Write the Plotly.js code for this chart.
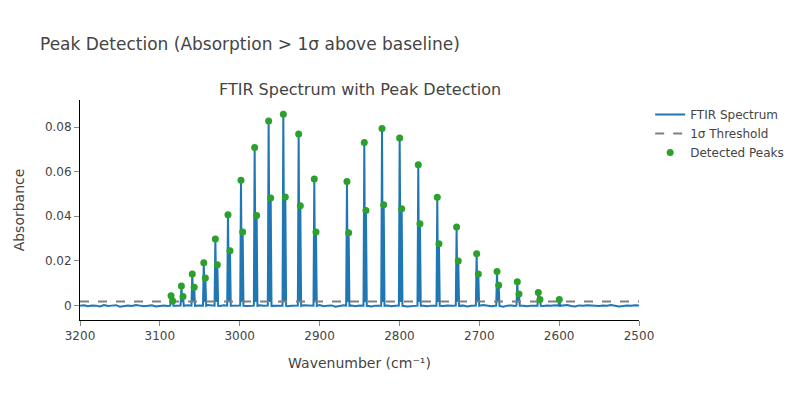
<!DOCTYPE html>
<html>
<head>
<meta charset="utf-8">
<script src="https://cdn.plot.ly/plotly-3.0.1.min.js"></script>
<style>html,body{margin:0;padding:0;background:#fff;}#chart{width:800px;height:400px;}</style>
</head>
<body>
<div id="chart"></div>
<script>
// Main (H35Cl-like) peak positions (cm^-1) and absorbance
var mainWn  = [3086, 3073, 3059.4, 3045, 3030.5, 3014.7, 2998.4, 2981.3, 2963.8, 2945.4, 2926.2, 2906.6,
               2865.7, 2844, 2821.8, 2799.7, 2776.4, 2752.6, 2728.4, 2703.3, 2677.8, 2652.4, 2626.1, 2599.8];
var mainAbs = [0.0043, 0.0087, 0.0141, 0.0191, 0.0298, 0.0407, 0.0562, 0.0709, 0.0828, 0.0858, 0.0769, 0.0567,
               0.0556, 0.0731, 0.0794, 0.0751, 0.0631, 0.0486, 0.0352, 0.0232, 0.0152, 0.0106, 0.0058, 0.0027];
// Secondary (isotope) peaks
var isoWn  = [3084, 3071, 3057, 3043, 3028, 3012.2, 2996.3, 2978.8, 2961.2, 2942.9, 2924.1, 2904.5,
              2863.6, 2841.9, 2819.7, 2797.2, 2774.3, 2750.5, 2726.3, 2701.2, 2675.7, 2650.3, 2624];
var isoAbs = [0.0020, 0.0040, 0.0081, 0.0123, 0.0183, 0.0245, 0.0329, 0.0404, 0.0482, 0.0487, 0.0447, 0.0330,
              0.0326, 0.0426, 0.0452, 0.0434, 0.0366, 0.0277, 0.0199, 0.0141, 0.0091, 0.0051, 0.0026];
// Baseline samples every 5 cm^-1 from 3200 down to 2500 (units of 1e-4 absorbance)
var baselineStart = 3200, baselineStep = 5;
var baselineE4 = [
 -2,1,-4,0,-1,-5,2,-3,-1,1,-6,-2,0,-3,2,-1,-4,-2,1,-5,
 -1,0,-3,3,-2,-4,-1,1,-3,-6,0,-2,2,-1,-4,-3,1,-2,-5,0,
 -1,2,-3,-1,-4,1,-2,-6,0,-3,-1,2,-4,-2,0,-5,1,-1,-3,-2,
 2,-4,-1,0,-6,-2,1,-3,-1,-4,0,2,-2,-5,-1,1,-3,0,-4,-2,
 1,-1,-5,-3,0,2,-2,-4,-1,-6,1,-3,0,-2,-4,1,-1,-5,-2,0,
 -3,2,-1,-4,-2,1,-6,-1,0,-3,2,-2,-4,-1,1,-5,-3,0,-2,1,
 -4,-1,2,-3,-5,0,-2,1,-1,-4,-3,0,-2,2,-1,-5,-3,0,-2,1,-1];
var threshold = 0.0017;
var xTicks = [3200, 3100, 3000, 2900, 2800, 2700, 2600, 2500];
var yTicks = [0, 0.02, 0.04, 0.06, 0.08];
var yTickText = ['0', '0.02', '0.04', '0.06', '0.08'];

// Assemble spectrum points: baseline + peak profiles
var pts = [];
var allPeaks = mainWn.concat(isoWn);
baselineE4.forEach(function (v, i) {
  var x = baselineStart - i * baselineStep;
  var near = allPeaks.some(function (p) { return Math.abs(p - x) < 2.5; });
  if (!near) pts.push([x, v * 1e-4]);
});
mainWn.forEach(function (w, i) {
  pts.push([w + 1.0, -0.0001]);
  pts.push([w, mainAbs[i]]);
  if (i < isoWn.length) {
    pts.push([(w + isoWn[i]) / 2, 0.0015]);
    pts.push([isoWn[i], isoAbs[i]]);
    pts.push([isoWn[i] - 1.0, -0.0002]);
  } else {
    pts.push([w - 1.0, -0.0002]);
  }
});
pts.sort(function (a, b) { return b[0] - a[0]; });
var specX = pts.map(function (p) { return p[0]; });
var specY = pts.map(function (p) { return p[1]; });

var peakX = mainWn.concat(isoWn);
var peakY = mainAbs.concat(isoAbs);

var FONT = '"DejaVu Sans", Verdana, sans-serif';
var TXT = '#444';

var traces = [
  {x: specX, y: specY, type: 'scatter', mode: 'lines', name: 'FTIR Spectrum',
   line: {color: '#1f77b4', width: 2}},
  {x: [3200, 2500], y: [threshold, threshold], type: 'scatter', mode: 'lines', name: '1σ Threshold',
   line: {color: 'grey', width: 2, dash: 'dash'}},
  {x: peakX, y: peakY, type: 'scatter', mode: 'markers', name: 'Detected Peaks',
   marker: {color: '#2ca02c', size: 7}}
];

var layout = {
  width: 800, height: 400,
  margin: {l: 80, r: 161, t: 100, b: 80, autoexpand: false},
  paper_bgcolor: 'white', plot_bgcolor: 'white',
  font: {family: FONT, color: TXT, size: 12},
  title: {text: 'Peak Detection (Absorption > 1σ above baseline)', x: 0.05, xanchor: 'left',
    font: {family: FONT, size: 17, color: TXT}},
  annotations: [{text: 'FTIR Spectrum with Peak Detection', xref: 'paper', yref: 'paper',
    x: 0.5, y: 1, xanchor: 'center', yanchor: 'bottom', yshift: -1, showarrow: false,
    font: {family: FONT, size: 16, color: TXT}}],
  xaxis: {range: [3200, 2500], tickvals: xTicks, ticktext: xTicks.map(String),
    showline: true, linecolor: 'black', linewidth: 1, ticks: 'outside', tickcolor: '#888', ticklen: 5,
    showgrid: false, zeroline: false, tickfont: {family: FONT, color: TXT, size: 12},
    automargin: false,
    title: {text: 'Wavenumber (cm⁻¹)', standoff: 15, font: {family: FONT, size: 14, color: TXT}}},
  yaxis: {range: [-0.00655, 0.0922], tickvals: yTicks, ticktext: yTickText,
    showline: true, linecolor: 'black', linewidth: 1, ticks: 'outside', tickcolor: '#888', ticklen: 5,
    showgrid: false, zeroline: false, tickfont: {family: FONT, color: TXT, size: 12},
    automargin: true,
    title: {text: 'Absorbance', standoff: 16, font: {family: FONT, size: 14, color: TXT}}},
  legend: {font: {family: FONT, size: 12, color: TXT}},
  showlegend: true
};

Plotly.newPlot('chart', traces, layout, {displayModeBar: false, staticPlot: true});
</script>
</body>
</html>
